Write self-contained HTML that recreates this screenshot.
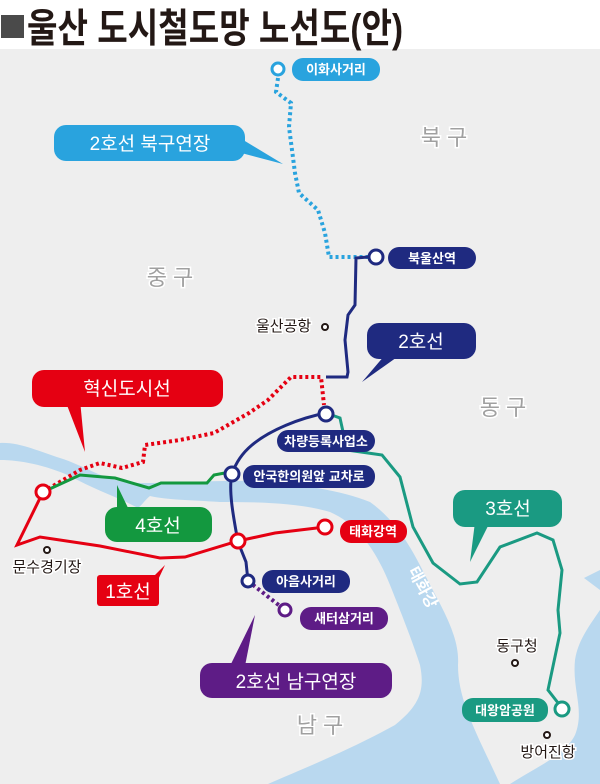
<!DOCTYPE html>
<html><head><meta charset="utf-8"><style>
html,body{margin:0;padding:0;background:#fff}
svg{display:block}
text{font-family:"Liberation Sans","Noto Sans CJK KR",sans-serif}
</style></head><body>
<svg width="600" height="784" viewBox="0 0 600 784" xmlns="http://www.w3.org/2000/svg">
<rect x="0" y="0" width="600" height="784" fill="#fff"/>
<rect x="0" y="49" width="600" height="735" fill="#eeeeee"/>
<!-- title -->
<rect x="1" y="15" width="23" height="23" fill="#4a4a4a"/>
<text x="27" y="42" font-size="40" font-weight="bold" fill="#231815" textLength="376" lengthAdjust="spacingAndGlyphs">울산 도시철도망 노선도(안)</text>

<!-- rivers -->
<g fill="#b9d8ef">
<path d="M0,443 C20,442 40,452 60,458 C85,466 100,478 125,482 C150,485 200,480 250,481 C300,484 340,490 370,502 C395,520 410,545 425,575 C440,605 460,635 458,665 C458,700 475,730 500,784 L268,784 C300,770 350,750 395,725 C420,705 425,690 420,665 C412,640 400,610 390,585 C378,555 360,525 330,512 C300,503 260,502 220,502 C190,500 168,500 150,496 C145,500 142,505 138,508 C120,498 95,490 70,476 C45,465 20,460 0,460 Z"/>
<path d="M600,610 C590,625 578,640 575,660 C572,690 585,710 575,735 C565,755 540,765 510,784 L600,784 Z"/>
<path d="M584,578 L600,570 L600,590 Z"/>
</g>

<!-- region labels -->
<g font-size="22" fill="#a0a0a0" stroke="#fff" stroke-width="3" paint-order="stroke" text-anchor="middle">
<text x="444" y="145">북 구</text>
<text x="170" y="285">중 구</text>
<text x="503" y="415">동 구</text>
<text x="320" y="733">남 구</text>
</g>

<!-- light blue dotted 2호선 북구연장 -->
<path d="M278,78 L276,92 L291,103 L289,127 L295,173 L299,193 L318,210 L325,233 L329,257 L368,257" fill="none" stroke="#29a3de" stroke-width="4" stroke-dasharray="3,3"/>
<!-- navy 2호선 -->
<path d="M368,257 L356,258 L355,305 L348,315 L345,340 L348,372 L347,377 L326,377" fill="none" stroke="#1f2a80" stroke-width="3"/>
<path d="M326,413 C300,418 270,430 252,445 C240,455 235,465 232,474 C228,490 234,520 238,542 L246,562 L248,581" fill="none" stroke="#1f2a80" stroke-width="3"/>
<!-- purple dotted -->
<path d="M248,581 L285,610" fill="none" stroke="#5e1c86" stroke-width="4" stroke-dasharray="3,3"/>
<!-- red dotted 혁신도시선 -->
<path d="M43,492 L80,470 L100,463 L122,468 L143,462 L145,445 L180,440 L214,433 L249,413 L268,400 L291,377 L321,377 L324,405" fill="none" stroke="#e50012" stroke-width="4" stroke-dasharray="3,3"/>
<!-- teal 3호선 -->
<path d="M326,413 L340,418 L347,450 L382,455 L400,477 L413,527 L433,563 L460,584 L477,582 L500,547 L537,533 L553,540 L562,570 L558,610 L560,633 L548,690 L562,708" fill="none" stroke="#1a9a82" stroke-width="3"/>
<!-- green 4호선 -->
<path d="M43,492 L80,475 L115,478 L149,488 L161,483 L207,483 L214,475 L230,472" fill="none" stroke="#13983f" stroke-width="3"/>
<!-- red 1호선 -->
<path d="M43,492 L17,545 L40,537 L100,546 L160,558 L185,557 L238,541 L275,533 L325,527" fill="none" stroke="#e50012" stroke-width="3"/>

<!-- nodes -->
<g fill="#fff" stroke-width="3">
<circle cx="278" cy="69" r="6" stroke="#29a3de"/>
<circle cx="376" cy="257" r="7" stroke="#1f2a80"/>
<circle cx="326" cy="414" r="7" stroke="#1f2a80"/>
<circle cx="232" cy="474" r="7" stroke="#1f2a80"/>
<circle cx="238" cy="541" r="7" stroke="#e50012"/>
<circle cx="325" cy="527" r="7" stroke="#e50012"/>
<circle cx="43" cy="492" r="7" stroke="#e50012"/>
<circle cx="248" cy="581" r="6" stroke="#1f2a80"/>
<circle cx="285" cy="610" r="6" stroke="#5e1c86"/>
<circle cx="562" cy="709" r="7" stroke="#1a9a82"/>
</g>
<g fill="#fff" stroke="#231815" stroke-width="2">
<circle cx="325" cy="327" r="3"/>
<circle cx="47" cy="550" r="3"/>
<circle cx="515" cy="663" r="3"/>
<circle cx="547" cy="735" r="3"/>
</g>
<g font-size="15" fill="#231815" stroke="#fff" stroke-width="3" paint-order="stroke">
<text x="256" y="331">울산공항</text>
<text x="47" y="572" text-anchor="middle">문수경기장</text>
<text x="517" y="651" text-anchor="middle">동구청</text>
<text x="548" y="757" text-anchor="middle">방어진항</text>
</g>
<text x="418" y="590" font-size="16" font-weight="bold" fill="#fff" transform="rotate(62 418 590)" text-anchor="middle">태화강</text>

<!-- station pills -->
<g font-size="13" font-weight="bold" fill="#fff" text-anchor="middle">
<rect x="292" y="58" width="88" height="23" rx="11" fill="#29a3de"/><text x="336" y="74">이화사거리</text>
<rect x="388" y="247" width="88" height="22" rx="11" fill="#1f2a80"/><text x="432" y="263">북울산역</text>
<rect x="277" y="430" width="98" height="22" rx="11" fill="#1f2a80"/><text x="326" y="446">차량등록사업소</text>
<rect x="243" y="465" width="132" height="23" rx="11" fill="#1f2a80"/><text x="309" y="481">안국한의원앞 교차로</text>
<rect x="340" y="520" width="67" height="23" rx="11" fill="#e50012"/><text x="373" y="536">태화강역</text>
<rect x="262" y="570" width="88" height="23" rx="11" fill="#1f2a80"/><text x="306" y="586">아음사거리</text>
<rect x="300" y="607" width="88" height="23" rx="11" fill="#5e1c86"/><text x="344" y="623">새터삼거리</text>
<rect x="462" y="698" width="86" height="24" rx="11" fill="#1a9a82"/><text x="505" y="715">대왕암공원</text>
</g>

<!-- line callouts -->
<g font-size="19" fill="#fff" text-anchor="middle">
<path d="M230,150 L283,164 L235,135 Z" fill="#29a3de"/>
<rect x="54" y="125" width="191" height="36" rx="12" fill="#29a3de"/><text x="150" y="150">2호선 북구연장</text>
<path d="M385,355 L362,382 L400,355 Z" fill="#1f2a80"/>
<rect x="367" y="323" width="109" height="36" rx="12" fill="#1f2a80"/><text x="421" y="348">2호선</text>
<path d="M65,400 L85,452 L80,400 Z" fill="#e50012"/>
<rect x="32" y="370" width="191" height="37" rx="12" fill="#e50012"/><text x="127" y="395">혁신도시선</text>
<path d="M117,485 L117,512 L130,512 Z" fill="#13983f"/>
<rect x="105" y="507" width="107" height="35" rx="12" fill="#13983f"/><text x="158" y="532">4호선</text>
<path d="M150,580 L165,565 L158,580 Z" fill="#e50012"/>
<rect x="97" y="575" width="62" height="31" rx="3" fill="#e50012"/><text x="128" y="598">1호선</text>
<path d="M475,522 L470,562 L490,522 Z" fill="#1a9a82"/>
<rect x="453" y="490" width="109" height="37" rx="12" fill="#1a9a82"/><text x="508" y="515">3호선</text>
<path d="M230,666 L255,615 L245,666 Z" fill="#5e1c86"/>
<rect x="200" y="663" width="192" height="35" rx="12" fill="#5e1c86"/><text x="296" y="688">2호선 남구연장</text>
</g>
</svg>
</body></html>
